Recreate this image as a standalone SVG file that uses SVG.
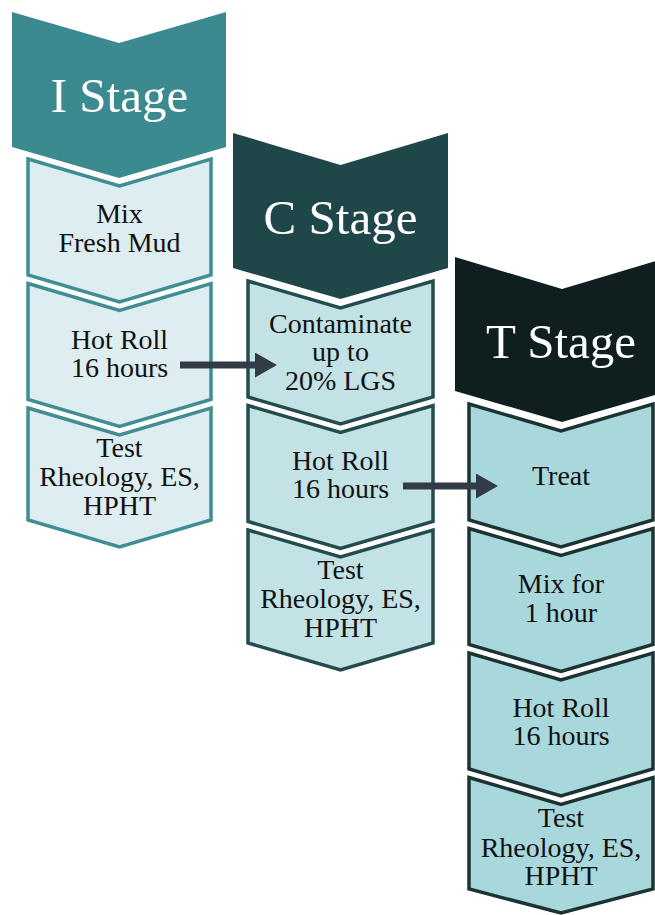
<svg xmlns="http://www.w3.org/2000/svg" width="655" height="915" viewBox="0 0 655 915">
  <defs>
    <marker id="head" markerUnits="userSpaceOnUse" viewBox="0 0 22 25" refX="0" refY="12.5" markerWidth="22" markerHeight="25" orient="auto">
      <path d="M0,0 L22,12.5 L0,25 Z" fill="#333c46"/>
    </marker>
  </defs>
  <style>
    text { font-family: 'Liberation Serif', 'Times New Roman', serif; text-anchor: middle; }
    .hdr-text { font-size: 49px; fill: #ffffff; }
    .box-text { font-size: 28px; fill: #111111; }
    .i-hdr { fill: #3b8a8f; }
    .c-hdr { fill: #1f4749; }
    .t-hdr { fill: #0f1e1e; }
    .box { stroke-width: 3.5; stroke-linejoin: miter; }
    .i-box { fill: #ddedf0; stroke: #3e8e93; }
    .c-box { fill: #c2e2e6; stroke: #234c4f; }
    .t-box { fill: #a8d7dc; stroke: #1c3334; }
    .arrow { stroke: #333c46; stroke-width: 7; fill: none; }
  </style>

  <!-- I column -->
  <g id="i-stage">
    <polygon class="i-hdr" points="12,12 119,43 226,12 226,147 119,178 12,147"/>
    <text class="hdr-text" x="119.5" y="112">I Stage</text>
  </g>
  <g id="i-mix">
    <polygon class="box i-box" points="28,159 119.5,186 211,159 211,275 119.5,302 28,275"/>
    <text class="box-text" x="119.5" y="223">Mix</text>
    <text class="box-text" x="119.5" y="252">Fresh Mud</text>
  </g>
  <g id="i-hotroll">
    <polygon class="box i-box" points="28,283.5 119.5,310.5 211,283.5 211,399.5 119.5,426.5 28,399.5"/>
    <text class="box-text" x="119.5" y="349">Hot Roll</text>
    <text class="box-text" x="119.5" y="377">16 hours</text>
  </g>
  <g id="i-test">
    <polygon class="box i-box" points="28,408 119.5,435 211,408 211,520 119.5,547 28,520"/>
    <text class="box-text" x="119.5" y="457">Test</text>
    <text class="box-text" x="119.5" y="486">Rheology, ES,</text>
    <text class="box-text" x="119.5" y="515">HPHT</text>
  </g>

  <!-- C column -->
  <g id="c-stage">
    <polygon class="c-hdr" points="233,133 340.5,165 448,133 448,268 340.5,299 233,268"/>
    <text class="hdr-text" x="340.5" y="234">C Stage</text>
  </g>
  <g id="c-contaminate">
    <polygon class="box c-box" points="248,281 340.5,308 433,281 433,397 340.5,424 248,397"/>
    <text class="box-text" x="340.5" y="333">Contaminate</text>
    <text class="box-text" x="340.5" y="361">up to</text>
    <text class="box-text" x="340.5" y="390">20% LGS</text>
  </g>
  <g id="c-hotroll">
    <polygon class="box c-box" points="248,405.5 340.5,432.5 433,405.5 433,521.5 340.5,548.5 248,521.5"/>
    <text class="box-text" x="340.5" y="470">Hot Roll</text>
    <text class="box-text" x="340.5" y="498">16 hours</text>
  </g>
  <g id="c-test">
    <polygon class="box c-box" points="248,530 340.5,557 433,530 433,643 340.5,670 248,643"/>
    <text class="box-text" x="340.5" y="579">Test</text>
    <text class="box-text" x="340.5" y="608">Rheology, ES,</text>
    <text class="box-text" x="340.5" y="637">HPHT</text>
  </g>

  <!-- T column -->
  <g id="t-stage">
    <polygon class="t-hdr" points="455,257 562,289 669,257 669,391 562,422 455,391"/>
    <text class="hdr-text" x="561" y="358">T Stage</text>
  </g>
  <g id="t-treat">
    <polygon class="box t-box" points="469,404 561,431 653,404 653,520 561,547 469,520"/>
    <text class="box-text" x="561" y="485">Treat</text>
  </g>
  <g id="t-mix">
    <polygon class="box t-box" points="469,528.5 561,555.5 653,528.5 653,644.5 561,671.5 469,644.5"/>
    <text class="box-text" x="561" y="593">Mix for</text>
    <text class="box-text" x="561" y="622">1 hour</text>
  </g>
  <g id="t-hotroll">
    <polygon class="box t-box" points="469,653 561,680 653,653 653,769 561,796 469,769"/>
    <text class="box-text" x="561" y="717">Hot Roll</text>
    <text class="box-text" x="561" y="745">16 hours</text>
  </g>
  <g id="t-test">
    <polygon class="box t-box" points="469,777.5 561,804.5 653,777.5 653,889 561,913 469,889"/>
    <text class="box-text" x="561" y="827">Test</text>
    <text class="box-text" x="561" y="857">Rheology, ES,</text>
    <text class="box-text" x="561" y="885">HPHT</text>
  </g>

  <!-- connectors -->
  <g id="connectors">
    <line class="arrow" x1="180" y1="365" x2="255" y2="365" marker-end="url(#head)"/>
    <line class="arrow" x1="403" y1="486" x2="476" y2="486" marker-end="url(#head)"/>
  </g>
</svg>
